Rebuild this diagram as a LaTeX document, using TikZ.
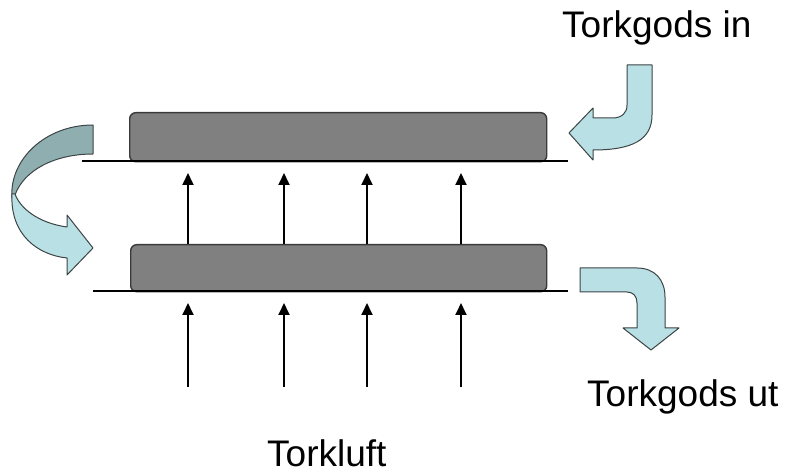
\documentclass[tikz,border=0pt]{standalone}
\usepackage{fontspec}
\setmainfont{Liberation Sans}
\usetikzlibrary{arrows.meta}
\definecolor{plate}{HTML}{808080}
\definecolor{plateedge}{HTML}{3A3A3A}
\definecolor{flowlight}{HTML}{B9E0E4}
\definecolor{flowdark}{HTML}{8FAEB0}
\definecolor{flowedge}{HTML}{3C4446}
\tikzset{
  plate/.style={draw=plateedge, fill=plate, line width=1.4pt, rounded corners=6pt,
                rectangle, inner sep=0pt, anchor=north west},
  baseline/.style={draw=black, line width=1.8pt},
  airflow/.style={draw=black, line width=1.8pt, -{Triangle[length=12pt,width=11pt]}},
  flow/.style={fill=flowlight, draw=flowedge, line width=1pt, line join=round},
  flowback/.style={fill=flowdark, draw=flowedge, line width=1pt, line join=round},
  label/.style={font=\fontsize{37}{40}\selectfont, inner sep=0pt, anchor=base west}
}
\begin{document}
\begin{tikzpicture}[x=1pt, y=-1pt]
  \useasboundingbox (0,0) rectangle (788,470);

  % drying trays
  \node[plate, minimum width=417pt, minimum height=49pt] (top) at (129,112) {};
  \node[plate, minimum width=416pt, minimum height=47pt] (bot) at (130,244) {};

  % support lines under the trays
  \coordinate (tl) at (82,161);  \coordinate (tr) at (568,161);
  \coordinate (bl) at (93,291);  \coordinate (br) at (568,291);
  \draw[baseline] (tl) -- (tr);
  \draw[baseline] (bl) -- (br);

  % air flow arrows
  \foreach \i/\x in {1/188, 2/284, 3/367, 4/461} {
    \coordinate (up\i) at (\x,173);
    \coordinate (lo\i) at (\x,387);
    \coordinate (lt\i) at (\x,303);
    \draw[airflow] (bot.north west -| up\i) -- (up\i);
    \draw[airflow] (lo\i) -- (lt\i);
  }

  % product in (top right)
  \path[flow] (627,65) -- (652,65) -- (652,115)
    .. controls (652,140) and (632,150) .. (593,150)
    -- (593,160) -- (569,133) -- (593,108) -- (593,118) -- (612,118)
    .. controls (622,118) and (627,113) .. (627,105) -- cycle;

  % turning from top tray to bottom tray (left)
  \path[flowback] (93,125) -- (93,154)
    .. controls (55,154) and (24,170) .. (15,195)
    -- (12,198)
    .. controls (9,160) and (45,125) .. (93,125) -- cycle;
  \path[flow] (12,194)
    .. controls (10,235) and (38,255) .. (67,258)
    -- (67,275) -- (93,248) -- (67,215) -- (67,227)
    .. controls (38,223) and (20,208) .. (15,194) -- cycle;

  % product out (bottom right)
  \path[flow] (580,268) -- (637,268)
    .. controls (655,268) and (665,280) .. (665,297)
    -- (665,328) -- (679,328) -- (651,350) -- (623,328) -- (637,328)
    -- (637,303) .. controls (637,296) and (633,292) .. (627,292)
    -- (580,292) -- cycle;

  % labels
  \node[label] (lin)  at (562,38)  {Torkgods in};
  \node[label] (lout) at (587,407) {Torkgods ut};
  \node[label] (lair) at (267,467) {Torkluft};
\end{tikzpicture}
\end{document}
